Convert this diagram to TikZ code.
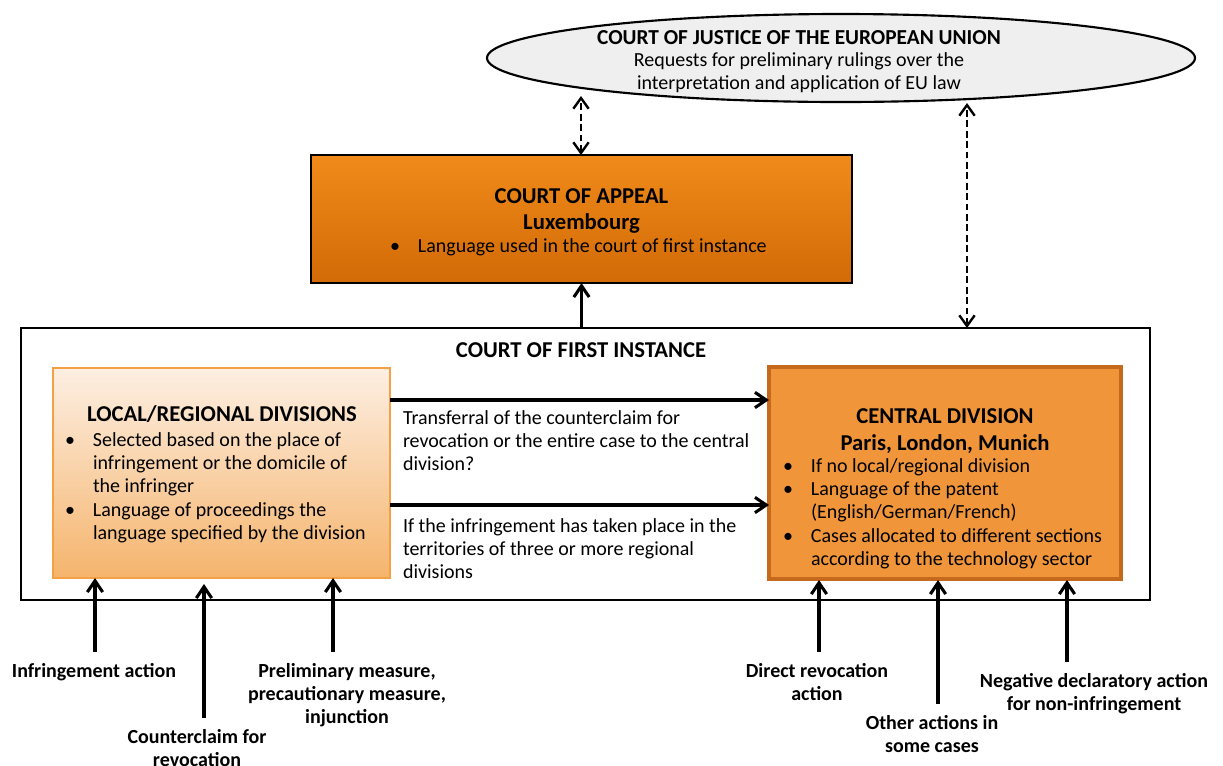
\documentclass[tikz,border=0pt]{standalone}
\usepackage{fontspec}
\setmainfont{Carlito}
\usetikzlibrary{arrows.meta,shapes.geometric}
\definecolor{appTop}{HTML}{F08B1A}
\definecolor{appBot}{HTML}{D26A06}
\definecolor{locTop}{HTML}{FDEFE3}
\definecolor{locBot}{HTML}{F5B46C}
\definecolor{locLine}{HTML}{F4A044}
\definecolor{cenFill}{HTML}{F0953A}
\definecolor{cenLine}{HTML}{C56A1D}
\definecolor{cjFill}{HTML}{EFEFEF}
\newcommand{\bulx}{\makebox[21pt][l]{\textbullet}}
\begin{document}
\begin{tikzpicture}[x=0.75pt,y=-0.75pt,
  every node/.style={inner sep=0pt,outer sep=0pt},
  body/.style={font=\fontsize{15}{17.6}\selectfont},
  ttl/.style={font=\fontsize{17}{19.5}\selectfont\bfseries},
  lbl/.style={font=\fontsize{15}{17.4}\selectfont\bfseries,anchor=base},
  arr/.style={-{Straight Barb[length=8.5pt,width=11.5pt]},line width=2.3pt},
  darr/.style={{Straight Barb[length=8pt,width=11.5pt]}-{Straight Barb[length=8pt,width=11.5pt]},line width=1.8pt,dash pattern=on 5pt off 2.8pt},
  up/.style={arr,shorten <=6.5pt}]
\useasboundingbox (0,0) rectangle (1223,765);
% Court of Justice
\node[ellipse,draw=black,line width=1.6pt,fill=cjFill,minimum width=531pt,minimum height=66pt] (cjeu) at (841,58) {};
\node[ttl,font=\fontsize{16}{19}\selectfont\bfseries,anchor=base] (cjt) at (799,44) {COURT OF JUSTICE OF THE EUROPEAN UNION};
\node[body,anchor=base] (cjb) at (799,66) {\begin{tabular}[t]{@{}c@{}}Requests for preliminary rulings over the\\interpretation and application of EU law\end{tabular}};
% Court of appeal
\node[draw=black,line width=1.5pt,top color=appTop,bottom color=appBot,minimum width=405.75pt,minimum height=96pt] (appeal) at (581.5,219) {};
\node[ttl,anchor=base] (appt) at (581.5,203) {\begin{tabular}[t]{@{}c@{}}COURT OF APPEAL\\Luxembourg\end{tabular}};
\node[body,anchor=base west] (appb) at (390,252) {\bulx Language used in the court of first instance};
% Court of first instance
\node[draw=black,line width=1.5pt,minimum width=846.75pt,minimum height=204pt] (fi) at (585.5,464) {};
\node[ttl,anchor=base] (fit) at (581,357) {COURT OF FIRST INSTANCE};
% Local / regional
\node[draw=locLine,line width=1.5pt,top color=locTop,bottom color=locBot,minimum width=252.75pt,minimum height=157.5pt] (local) at (221.5,473) {};
\node[ttl,anchor=base] (loct) at (222,421) {LOCAL/REGIONAL DIVISIONS};
\node[body,anchor=base west] (locb) at (65,446) {\begin{tabular}[t]{@{}l@{}l@{}}\bulx&Selected based on the place of\\&infringement or the domicile of\\&the infringer\\\bulx&Language of proceedings the\\&language specified by the division\end{tabular}};
% Central
\node[draw=cenLine,line width=3pt,fill=cenFill,minimum width=264pt,minimum height=159pt] (central) at (945,473) {};
\node[ttl,font=\fontsize{17}{20.3}\selectfont\bfseries,anchor=base] (cent) at (945,423) {\begin{tabular}[t]{@{}c@{}}CENTRAL DIVISION\\Paris, London, Munich\end{tabular}};
\node[body,anchor=base west] (cenb) at (783,472) {\begin{tabular}[t]{@{}l@{}l@{}}\bulx&If no local/regional division\\\bulx&Language of the patent\\&(English/German/French)\\\bulx&Cases allocated to different sections\\&according to the technology sector\end{tabular}};
% transfer texts
\node[body,anchor=base west] (tr1) at (403,424) {\begin{tabular}[t]{@{}l@{}}Transferral of the counterclaim for\\revocation or the entire case to the central\\division?\end{tabular}};
\node[body,anchor=base west] (tr2) at (403,532) {\begin{tabular}[t]{@{}l@{}}If the infringement has taken place in the\\territories of three or more regional\\divisions\end{tabular}};
% bottom labels
\node[lbl] (l1) at (94,677) {\begin{tabular}[t]{@{}c@{}}Infringement action\end{tabular}};
\node[lbl] (l2) at (197,743) {\begin{tabular}[t]{@{}c@{}}Counterclaim for\\revocation\end{tabular}};
\node[lbl] (l3) at (347,677) {\begin{tabular}[t]{@{}c@{}}Preliminary measure,\\precautionary measure,\\injunction\end{tabular}};
\node[lbl] (l4) at (817,677) {\begin{tabular}[t]{@{}c@{}}Direct revocation\\action\end{tabular}};
\node[lbl] (l5) at (932,729) {\begin{tabular}[t]{@{}c@{}}Other actions in\\some cases\end{tabular}};
\node[lbl] (l6) at (1094,687) {\begin{tabular}[t]{@{}c@{}}Negative declaratory action\\for non-infringement\end{tabular}};
% coordinates
\coordinate (cj1) at (581,96);
\coordinate (cj2) at (967,103);
\coordinate (a1) at (95,578);
\coordinate (a2) at (204,584);
\coordinate (a3) at (333,578);
\coordinate (a4) at (819,580);
\coordinate (a5) at (938,580);
\coordinate (a6) at (1067,580);
% connectors
\draw[darr] (appeal.north -| cj1) -- (cj1);
\draw[darr] (fi.north -| cj2) -- (cj2);
\draw[arr] (fi.north -| appeal.south) -- (appeal.south);
\draw[arr] ([yshift=-24pt]local.north east) -- ([yshift=-24pt]local.north east -| central.west);
\draw[arr] ([yshift=-102.75pt]local.north east) -- ([yshift=-102.75pt]local.north east -| central.west);
\draw[up] (l1.north -| a1) -- (a1);
\draw[up] (l2.north -| a2) -- (a2);
\draw[up] (l3.north -| a3) -- (a3);
\draw[up] (l4.north -| a4) -- (a4);
\draw[up] (l5.north -| a5) -- (a5);
\draw[up] (l6.north -| a6) -- (a6);
\end{tikzpicture}
\end{document}
